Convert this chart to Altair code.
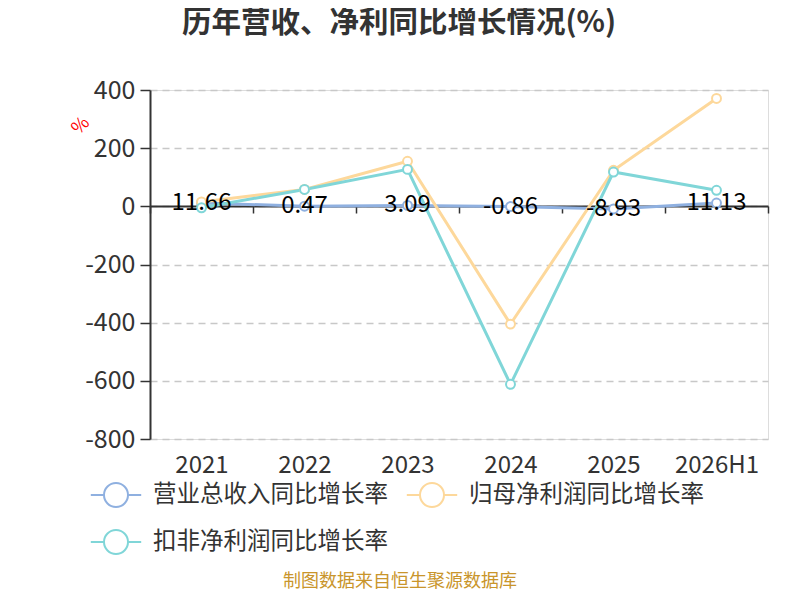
import altair as alt
import pandas as pd

years = ["2021", "2022", "2023", "2024", "2025", "2026H1"]
revenue = [11.66, 0.47, 3.09, -0.86, -8.93, 11.13]
net_profit = [15, 58, 155, -405, 124, 371]
deducted = [-5, 58, 127, -612, 118, 55]
series_names = ["营业总收入同比增长率", "归母净利润同比增长率", "扣非净利润同比增长率"]
colors = ["#8fb0e0", "#fdd89b", "#80d6d8"]
title_text = "历年营收、净利同比增长情况(%)"
footer_text = "制图数据来自恒生聚源数据库"

rows = []
for name, vals in zip(series_names, [revenue, net_profit, deducted]):
    for y, v in zip(years, vals):
        rows.append({"year": y, "series": name, "value": v})
df = pd.DataFrame(rows)
rev_df = pd.DataFrame({"year": years, "value": revenue, "label": [f"{v:.2f}" for v in revenue]})

FONT = "Noto Sans CJK SC"

x_enc = alt.X("year:N", sort=years, title=None,
              scale=alt.Scale(paddingInner=0, paddingOuter=0),
              axis=alt.Axis(offset=-233, domainColor="#333", domainWidth=2,
                            tickColor="#333", tickWidth=1.5, tickSize=7, tickBand="extent",
                            labelPadding=240, labelFontSize=24, labelColor="#333",
                            labelFont=FONT, labelAngle=0, grid=False))
y_scale = alt.Scale(domain=[-800, 400], nice=False, zero=False)
y_axis = alt.Axis(values=[-800, -600, -400, -200, 0, 200, 400], grid=True,
                  gridDash=[7, 5], gridColor="#c8c8c8", gridWidth=1.5,
                  domainColor="#333", domainWidth=2, tickColor="#333", tickSize=10,
                  tickWidth=1.5, labelExpr="datum.value + ''",
                  labelFontSize=25, labelColor="#333", labelFont=FONT, labelPadding=5,
                  title="%", titleColor="red", titleFontSize=18, titleFont=FONT,
                  titleFontWeight="normal", titleAngle=315, titleX=-63, titleY=42)

color = alt.Color("series:N", sort=series_names,
                  scale=alt.Scale(domain=series_names, range=colors),
                  legend=alt.Legend(title=None, orient="none", legendX=-47, legendY=392,
                                    direction="horizontal", columns=2, columnPadding=14,
                                    rowPadding=15, labelLimit=0,
                                    labelFontSize=23.5, labelColor="#333", labelFont=FONT,
                                    symbolType="M-2.1,0H-1M1,0H2.1M-1,0A1,1 0 1,1 1,0A1,1 0 1,1 -1,0",
                                    symbolSize=576, symbolStrokeWidth=2,
                                    symbolFillColor="white", labelOffset=24))

base = alt.Chart(df)
lines = base.mark_line(strokeWidth=3).encode(
    x=x_enc, y=alt.Y("value:Q", scale=y_scale, axis=y_axis), color=color)
points = base.mark_point(filled=True, fill="white", size=80, strokeWidth=2, opacity=1).encode(
    x=alt.X("year:N", sort=years), y="value:Q",
    stroke=alt.Stroke("series:N", scale=alt.Scale(domain=series_names, range=colors), legend=None))
labels = alt.Chart(rev_df).mark_text(fontSize=24, font=FONT, color="#000", baseline="middle", dy=0).encode(
    x=alt.X("year:N", sort=years), y="value:Q", text="label:N")
footer = alt.Chart(pd.DataFrame({"t": [footer_text]})).mark_text(
    fontSize=18, font=FONT, color="#c9952b").encode(
    x=alt.value(250), y=alt.value(492), text="t:N")
title = alt.Chart(pd.DataFrame({"t": [title_text]})).mark_text(
    fontSize=29.5, font=FONT, fontWeight="bold", color="#333", baseline="middle").encode(
    x=alt.value(249), y=alt.value(-67), text="t:N")

chart = alt.layer(lines, points, labels, footer, title).properties(
    width=618, height=349,
    padding={"left": 142, "top": 82, "right": 24, "bottom": 153},
    autosize=alt.AutoSizeParams(type="none"),
).configure_view(stroke=None).configure(background="white")

chart.save("out.html", embed_options={"renderer": "svg", "actions": False})
